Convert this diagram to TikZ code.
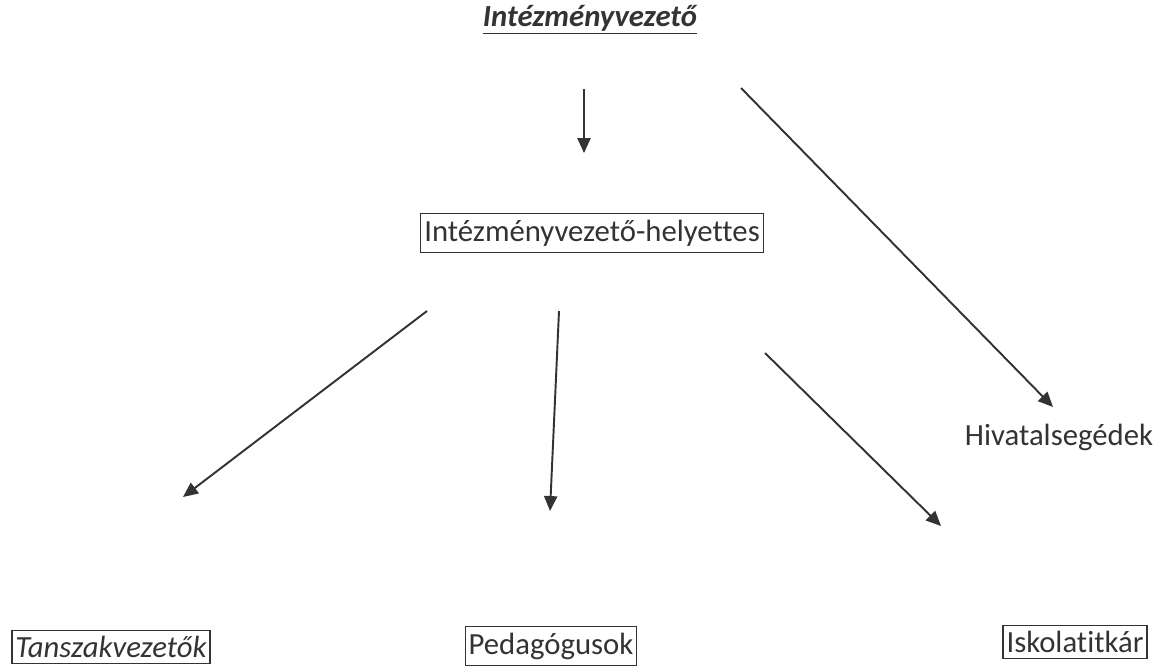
\documentclass[tikz,border=0pt]{standalone}
\usepackage{fontspec}
\setmainfont{Carlito}[Ligatures=NoCommon]
\usetikzlibrary{arrows.meta}
\definecolor{ink}{HTML}{333333}
\begin{document}
\begin{tikzpicture}[x=0.02cm, y=-0.02cm,
    box/.style={draw=ink, line width=0.6pt, inner xsep=2pt, inner ysep=3.5pt, text=ink, font=\fontsize{17.5}{20}\selectfont},
    lbl/.style={inner sep=1pt, text=ink, font=\fontsize{17.5}{20}\selectfont},
    arr/.style={draw=ink, line width=1.1pt, -{Triangle[length=8.5pt, width=7.5pt]}}]
      \useasboundingbox (0,0) rectangle (1168,667);

      \node[lbl](top) at ( 590, 20){\bfseries\itshape\underline{Intézményvezető}};
      \node[box](helyettes) at ( 592, 233){Intézményvezető-helyettes};
      \node[lbl](hivatal) at (1059, 437){Hivatalsegédek};
      \node[box](tanszak) at ( 111, 647){\itshape Tanszakvezetők};
      \node[box](pedagog) at ( 551, 646){Pedagógusok};
      \node[box](titkar) at (1075, 642){Iskolatitkár};

      \coordinate (a1s) at ( 584, 89);  \coordinate (a1e) at ( 584, 153);
      \coordinate (a2s) at ( 741, 88);  \coordinate (a2e) at (1053, 407);
      \coordinate (a3s) at ( 427, 311); \coordinate (a3e) at ( 183, 497);
      \coordinate (a4s) at ( 559, 311); \coordinate (a4e) at ( 550, 511);
      \coordinate (a5s) at ( 765, 353); \coordinate (a5e) at ( 941, 526);

      \draw[arr] (a1s) -- (a1e);
      \draw[arr] (a2s) -- (a2e);
      \draw[arr] (a3s) -- (a3e);
      \draw[arr] (a4s) -- (a4e);
      \draw[arr] (a5s) -- (a5e);
    \end{tikzpicture}
\end{document}
